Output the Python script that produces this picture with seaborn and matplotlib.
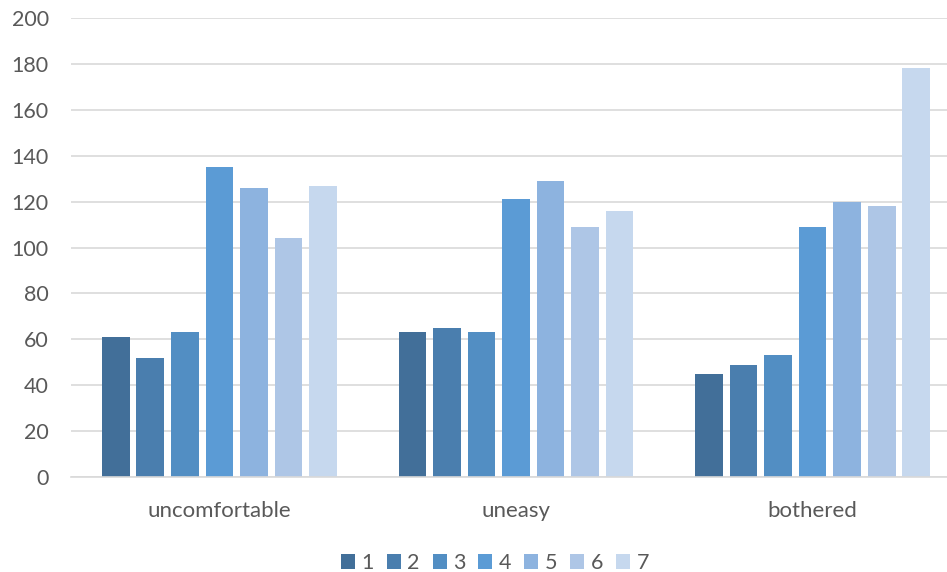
import matplotlib
matplotlib.use("Agg")
import matplotlib.pyplot as plt
import seaborn as sns
import pandas as pd

categories = ["uncomfortable", "uneasy", "bothered"]
series_names = ["1", "2", "3", "4", "5", "6", "7"]
s1 = [61, 63, 45]
s2 = [52, 65, 49]
s3 = [63, 63, 53]
s4 = [135, 121, 109]
s5 = [126, 129, 120]
s6 = [104, 109, 118]
s7 = [127, 116, 178]
y_ticks = [0, 20, 40, 60, 80, 100, 120, 140, 160, 180, 200]

colors = ["#426F99", "#4A7EAE", "#528EC3", "#5B9BD5", "#8DB3DF", "#AEC6E6", "#C6D8EE"]

rows = []
for name, vals in zip(series_names, [s1, s2, s3, s4, s5, s6, s7]):
    for c, v in zip(categories, vals):
        rows.append({"category": c, "series": name, "value": v})
df = pd.DataFrame(rows)

sns.set_theme(style="white")
plt.rcParams['font.family'] = ['Lato', 'DejaVu Sans']
text_color = "#595959"

fig = plt.figure(figsize=(9.47, 5.72), dpi=100)
ax = fig.add_axes([71 / 947, 1 - 477 / 572, 890 / 947, (477 - 18) / 572])

sns.barplot(data=df, x="category", y="value", hue="series", order=categories,
            hue_order=series_names, palette=colors, width=0.815, gap=0.2,
            saturation=1, ax=ax, legend=True, linewidth=0)

ax.set_ylim(0, 200)
ax.set_yticks(y_ticks)
ax.set_xlim(-0.5, 2.5)
ax.yaxis.grid(True, color="#D9D9D9", linewidth=1.2)
ax.set_axisbelow(True)
for side in ["left", "right", "top"]:
    ax.spines[side].set_visible(False)
ax.spines["bottom"].set_color("#D9D9D9")
ax.spines["bottom"].set_linewidth(1.2)
ax.tick_params(axis="both", length=0, labelsize=15.5, colors=text_color)
ax.tick_params(axis="y", pad=16)
ax.tick_params(axis="x", pad=17)
for lbl in ax.get_xticklabels():
    lbl.set_fontsize(16)
ax.set_xlabel("")
ax.set_ylabel("")

handles, labels = ax.get_legend_handles_labels()
ax.legend_.remove()
fig.legend(handles, labels, loc="center", bbox_to_anchor=(495 / 947, 1 - 563 / 572),
           ncol=7, frameon=False, fontsize=15.5, labelcolor=text_color,
           handlelength=0.65, handleheight=0.65, handletextpad=0.3, columnspacing=0.6)

fig.savefig("out.png", dpi=100)
